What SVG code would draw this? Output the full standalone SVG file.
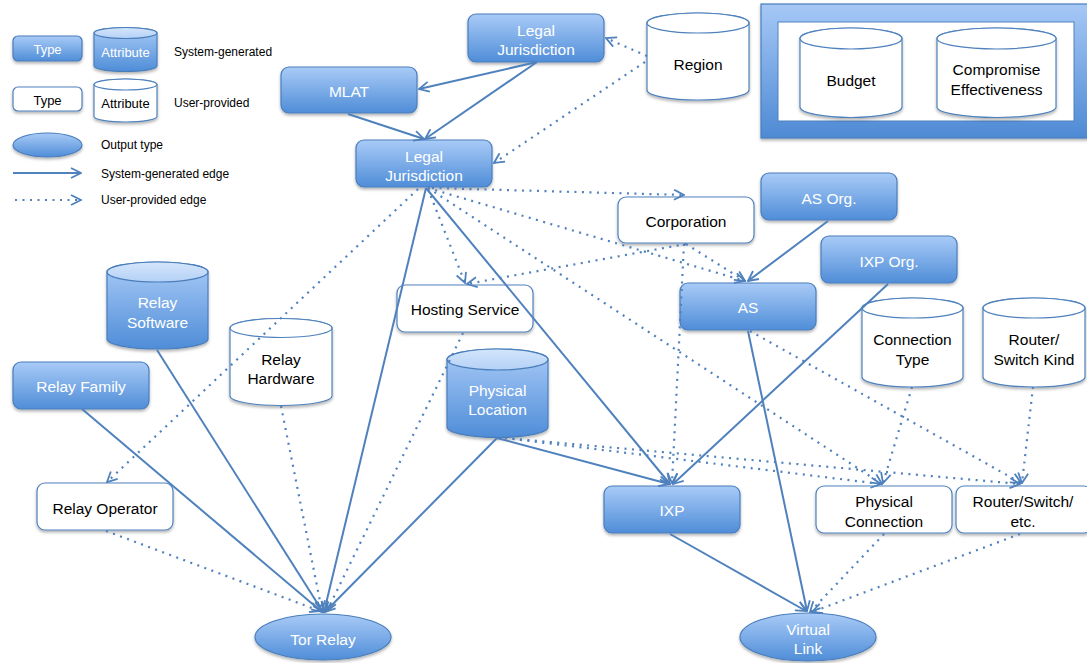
<svg xmlns="http://www.w3.org/2000/svg" width="1087" height="663" viewBox="0 0 1087 663">
<defs>
<linearGradient id="gSys" x1="0" y1="0" x2="0" y2="1"><stop offset="0" stop-color="#A9CBF7"/><stop offset="1" stop-color="#4F8DD8"/></linearGradient>
<linearGradient id="gTop" x1="0" y1="0" x2="0" y2="1"><stop offset="0" stop-color="#D4E5FB"/><stop offset="1" stop-color="#B4D1F6"/></linearGradient>
<linearGradient id="gBig" x1="0" y1="0" x2="0" y2="1"><stop offset="0" stop-color="#A6C8F6"/><stop offset="1" stop-color="#4E8AD4"/></linearGradient>
<filter id="sh" x="-10%" y="-10%" width="125%" height="140%"><feDropShadow dx="0" dy="2" stdDeviation="1.5" flood-color="#000" flood-opacity="0.3"/></filter>
<marker id="ar" viewBox="0 0 12 12" refX="11" refY="6" markerWidth="12" markerHeight="12" markerUnits="userSpaceOnUse" orient="auto"><path d="M1,1 L11,6 L1,11" fill="none" stroke="#4F81BD" stroke-width="1.8"/></marker>
</defs>
<style>
.sys{fill:url(#gSys);stroke:#4A7EBB;stroke-width:1.2;filter:url(#sh)}
.usr{fill:#fff;stroke:#4F81BD;stroke-width:1.2;filter:url(#sh)}
.top{fill:url(#gTop);stroke:#4A7EBB;stroke-width:1.2}
.utop{fill:#fff;stroke:#4F81BD;stroke-width:1.2}
text{font-family:"Liberation Sans",Arial,sans-serif;text-anchor:middle;dominant-baseline:central}
.tw{fill:#fff;font-size:15.5px}
.tb{fill:#000;font-size:15.5px}
.lw{fill:#fff;font-size:13px}
.lb{fill:#000;font-size:13px}
.lg{fill:#000;font-size:12px;text-anchor:start}
.s{stroke:#4F81BD;stroke-width:2;fill:none;marker-end:url(#ar)}
.d{stroke:#4F81BD;stroke-width:2.2;fill:none;stroke-dasharray:2 5.5;marker-end:url(#ar)}
</style>
<rect width="1087" height="663" fill="#fff"/>

<g id="legend">
<rect class="sys" x="13" y="36" width="69" height="25" rx="5"/>
<text class="lw" x="47.5" y="49">Type</text>
<path class="sys" d="M94,33 L94,66 A31.5,5.5 0 0 0 157,66 L157,33 A31.5,5.5 0 0 0 94,33Z"/>
<ellipse class="top" cx="125.5" cy="33" rx="31.5" ry="5.5"/>
<text class="lw" x="125.5" y="52">Attribute</text>
<text class="lg" x="174" y="52">System-generated</text>
<rect class="usr" x="13" y="87" width="69" height="24" rx="5"/>
<text class="lb" x="47.5" y="100">Type</text>
<path class="usr" d="M94,84.5 L94,116.5 A31.5,5.5 0 0 0 157,116.5 L157,84.5 A31.5,5.5 0 0 0 94,84.5Z"/>
<ellipse class="utop" cx="125.5" cy="84.5" rx="31.5" ry="5.5"/>
<text class="lb" x="125.5" y="103">Attribute</text>
<text class="lg" x="174" y="103">User-provided</text>
<ellipse class="sys" cx="47.5" cy="145" rx="34.5" ry="12"/>
<text class="lg" x="101" y="145">Output type</text>
<line class="s" x1="13" y1="173" x2="81" y2="173"/>
<text class="lg" x="101" y="174">System-generated edge</text>
<line class="d" x1="15" y1="200" x2="81" y2="200"/>
<text class="lg" x="101" y="200">User-provided edge</text>
</g>

<g id="params">
<rect x="761" y="4" width="330" height="134" fill="url(#gBig)" stroke="#4A7EBB" stroke-width="1.2" filter="url(#sh)"/>
<rect x="778" y="22" width="296" height="99" fill="#fff" stroke="#4F81BD" stroke-width="1"/>
</g>
<g id="budget">
<path class="usr" d="M800,38.5 L800,107 A51,10.5 0 0 0 902,107 L902,38.5 A51,10.5 0 0 0 800,38.5Z"/>
<ellipse class="utop" cx="851" cy="38.5" rx="51" ry="10.5"/>
<text class="tb" x="851" y="80">Budget</text>
</g>
<g id="compromise">
<path class="usr" d="M937,38.5 L937,107 A59.5,10.5 0 0 0 1056,107 L1056,38.5 A59.5,10.5 0 0 0 937,38.5Z"/>
<ellipse class="utop" cx="996.5" cy="38.5" rx="59.5" ry="10.5"/>
<text class="tb" x="996.5" y="69">Compromise</text>
<text class="tb" x="996.5" y="89">Effectiveness</text>
</g>

<g id="lj_top"><rect class="sys" x="468" y="14" width="136" height="48" rx="8"/><text class="tw" x="536" y="30">Legal</text><text class="tw" x="536" y="49">Jurisdiction</text></g>
<g id="region">
<path class="usr" d="M647,23 L647,90 A51,10 0 0 0 749,90 L749,23 A51,10 0 0 0 647,23Z"/>
<ellipse class="utop" cx="698" cy="23" rx="51" ry="10"/>
<text class="tb" x="698" y="64">Region</text>
</g>
<g id="mlat"><rect class="sys" x="281" y="67" width="136" height="46" rx="8"/><text class="tw" x="349" y="91">MLAT</text></g>
<g id="lj_low"><rect class="sys" x="356" y="140" width="136" height="47" rx="8"/><text class="tw" x="424" y="156">Legal</text><text class="tw" x="424" y="175">Jurisdiction</text></g>
<g id="corporation"><rect class="usr" x="618" y="197" width="136" height="46" rx="8"/><text class="tb" x="686" y="221">Corporation</text></g>
<g id="as_org"><rect class="sys" x="761" y="173" width="136" height="47" rx="8"/><text class="tw" x="829" y="198">AS Org.</text></g>
<g id="ixp_org"><rect class="sys" x="821" y="236" width="136" height="47" rx="8"/><text class="tw" x="889" y="261">IXP Org.</text></g>
<g id="as"><rect class="sys" x="680" y="283" width="136" height="47" rx="8"/><text class="tw" x="748" y="307">AS</text></g>
<g id="hosting"><rect class="usr" x="397" y="285" width="136" height="47" rx="8"/><text class="tb" x="465" y="309">Hosting Service</text></g>
<g id="relay_software">
<path class="sys" d="M107,272 L107,339 A50.5,10 0 0 0 208,339 L208,272 A50.5,10 0 0 0 107,272Z"/>
<ellipse class="top" cx="157.5" cy="272" rx="50.5" ry="10"/>
<text class="tw" x="157.5" y="302">Relay</text><text class="tw" x="157.5" y="322">Software</text>
</g>
<g id="relay_hardware">
<path class="usr" d="M230,328 L230,396 A51,9.5 0 0 0 332,396 L332,328 A51,9.5 0 0 0 230,328Z"/>
<ellipse class="utop" cx="281" cy="328" rx="51" ry="9.5"/>
<text class="tb" x="281" y="359">Relay</text><text class="tb" x="281" y="378">Hardware</text>
</g>
<g id="physical_location">
<path class="sys" d="M447,359.5 L447,427 A50.5,10.5 0 0 0 548,427 L548,359.5 A50.5,10.5 0 0 0 447,359.5Z"/>
<ellipse class="top" cx="497.5" cy="359.5" rx="50.5" ry="10.5"/>
<text class="tw" x="497.5" y="390">Physical</text><text class="tw" x="497.5" y="409">Location</text>
</g>
<g id="connection_type">
<path class="usr" d="M862,308 L862,377 A50.5,10 0 0 0 963,377 L963,308 A50.5,10 0 0 0 862,308Z"/>
<ellipse class="utop" cx="912.5" cy="308" rx="50.5" ry="10"/>
<text class="tb" x="912.5" y="339">Connection</text><text class="tb" x="912.5" y="359">Type</text>
</g>
<g id="router_kind">
<path class="usr" d="M983,308 L983,377 A51,10 0 0 0 1085,377 L1085,308 A51,10 0 0 0 983,308Z"/>
<ellipse class="utop" cx="1034" cy="308" rx="51" ry="10"/>
<text class="tb" x="1034" y="339">Router/</text><text class="tb" x="1034" y="359">Switch Kind</text>
</g>
<g id="relay_family"><rect class="sys" x="13" y="362" width="136" height="47" rx="8"/><text class="tw" x="81" y="386">Relay Family</text></g>
<g id="relay_operator"><rect class="usr" x="37" y="483" width="136" height="47" rx="8"/><text class="tb" x="105" y="508">Relay Operator</text></g>
<g id="ixp"><rect class="sys" x="604" y="486" width="136" height="47" rx="8"/><text class="tw" x="672" y="510">IXP</text></g>
<g id="physical_connection"><rect class="usr" x="816" y="486" width="136" height="47" rx="8"/><text class="tb" x="884" y="501">Physical</text><text class="tb" x="884" y="521">Connection</text></g>
<g id="router_switch"><rect class="usr" x="956" y="486" width="136" height="47" rx="8"/><text class="tb" x="1023" y="501">Router/Switch/</text><text class="tb" x="1023" y="521">etc.</text></g>
<g id="tor_relay"><ellipse class="sys" cx="323" cy="637" rx="68" ry="23"/><text class="tw" x="323" y="639">Tor Relay</text></g>
<g id="virtual_link"><ellipse class="sys" cx="808" cy="637" rx="68" ry="24"/><text class="tw" x="808" y="629">Virtual</text><text class="tw" x="808" y="648">Link</text></g>

<g id="connectors">
<line class="s" x1="537" y1="62" x2="419" y2="89"/>
<line class="s" x1="537" y1="62" x2="425" y2="139"/>
<line class="s" x1="348" y1="114" x2="424" y2="139"/>
<line class="s" x1="426" y1="188" x2="324" y2="612"/>
<line class="s" x1="426" y1="188" x2="670" y2="484"/>
<line class="s" x1="828" y1="221" x2="748" y2="281"/>
<line class="s" x1="888" y1="284" x2="673" y2="484"/>
<line class="s" x1="748" y1="331" x2="807" y2="611"/>
<line class="s" x1="670" y1="534" x2="806" y2="611"/>
<line class="s" x1="497" y1="438" x2="669" y2="484"/>
<line class="s" x1="497" y1="438" x2="325" y2="612"/>
<line class="s" x1="82" y1="409" x2="322" y2="612"/>
<line class="s" x1="157" y1="350" x2="323" y2="612"/>
<line class="d" x1="647" y1="56" x2="606" y2="38"/>
<line class="d" x1="645" y1="62" x2="494" y2="163"/>
<line class="d" x1="432" y1="188" x2="684" y2="195"/>
<line class="d" x1="428" y1="189" x2="465" y2="283"/>
<line class="d" x1="428" y1="188" x2="745" y2="281"/>
<line class="d" x1="418" y1="189" x2="107" y2="482"/>
<line class="d" x1="428" y1="188" x2="882" y2="484"/>
<line class="d" x1="686" y1="244" x2="467" y2="284"/>
<line class="d" x1="686" y1="244" x2="745" y2="281"/>
<line class="d" x1="684" y1="244" x2="672" y2="483"/>
<line class="d" x1="750" y1="331" x2="1021" y2="483"/>
<line class="d" x1="912" y1="387" x2="883" y2="483"/>
<line class="d" x1="1033" y1="387" x2="1022" y2="483"/>
<line class="d" x1="505" y1="438" x2="881" y2="484"/>
<line class="d" x1="505" y1="438" x2="1020" y2="484"/>
<line class="d" x1="463" y1="333" x2="327" y2="611"/>
<line class="d" x1="281" y1="406" x2="322" y2="611"/>
<line class="d" x1="106" y1="531" x2="320" y2="611"/>
<line class="d" x1="884" y1="534" x2="810" y2="612"/>
<line class="d" x1="1020" y1="534" x2="812" y2="612"/>
</g>
</svg>
